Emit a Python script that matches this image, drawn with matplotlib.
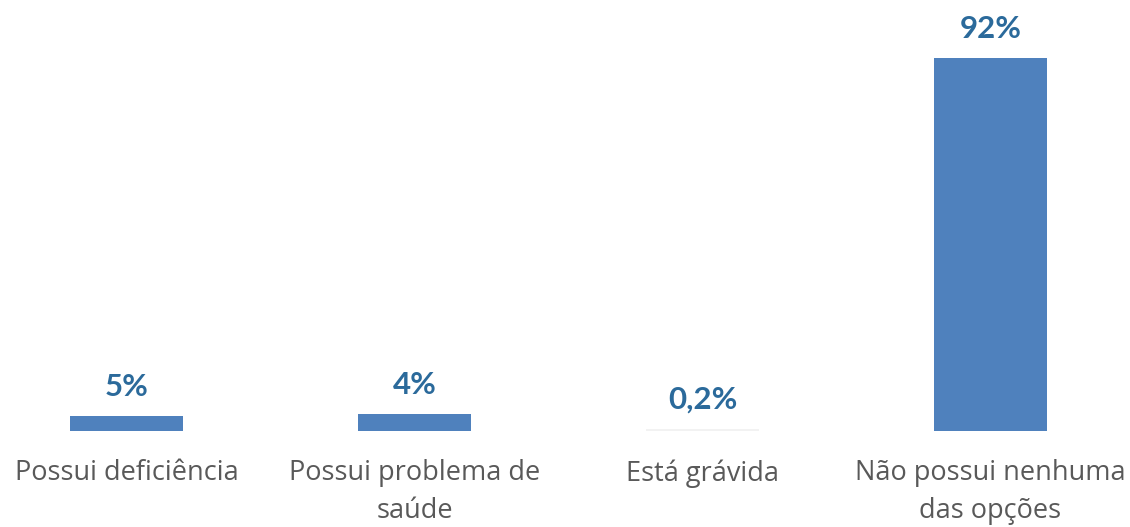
import matplotlib
matplotlib.use("Agg")
import matplotlib.pyplot as plt

categories = ["Possui deficiência", "Possui problema de\nsaúde", "Está grávida",
              "Não possui nenhuma\ndas opções"]
bar_heights = [3.7, 4.2, 0.6, 92]
value_labels = ["5%", "4%", "0,2%", "92%"]
bar_colors = ["#4F81BD", "#4F81BD", "#F2F2F2", "#4F81BD"]

fig = plt.figure(figsize=(11.3, 5.27), dpi=100)
ax = fig.add_axes([0, 96 / 527, 1, 431 / 527])

x = list(range(len(categories)))
bars = ax.bar(x, bar_heights, width=0.39, color=bar_colors)

for rect, lab in zip(bars, value_labels):
    ax.annotate(lab, (rect.get_x() + rect.get_width() / 2, rect.get_height()),
                xytext=(0, 14.4), textcoords="offset points",
                ha="center", va="baseline", fontsize=22.5, fontweight="bold",
                family=["Lato", "DejaVu Sans"], color="#2B6A9B")

ax.set_xlim(-126.5 / 288, (1130 - 126.5) / 288)
ax.set_ylim(0, 92 * 431 / 373)
ax.set_xticks(x)
ax.set_xticklabels(categories, fontsize=19.5, color="#595959",
                   family=["Open Sans", "DejaVu Sans"], linespacing=1.45)
ax.tick_params(axis="x", length=0, pad=20.5)
ax.set_yticks([])
for s in ax.spines.values():
    s.set_visible(False)

fig.savefig("out.png", dpi=100)
